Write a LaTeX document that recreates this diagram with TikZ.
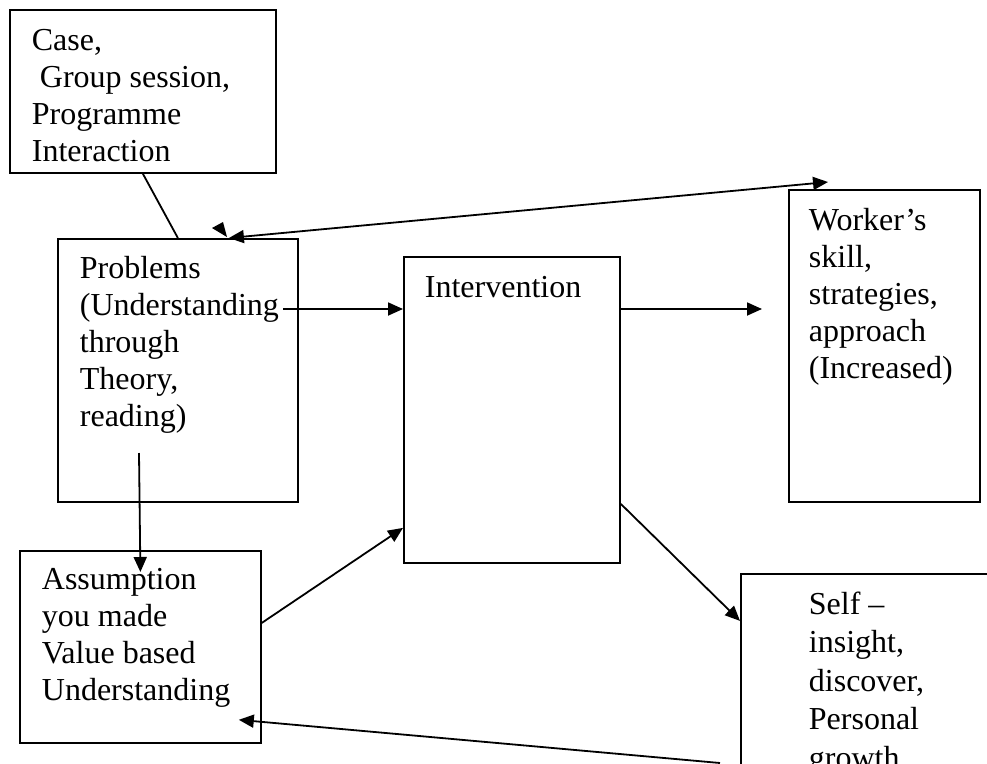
\documentclass[tikz,border=0pt]{standalone}
\usepackage{fontspec}
\setmainfont{Liberation Serif}
\usetikzlibrary{arrows.meta}
\begin{document}
\begin{tikzpicture}[x=1pt,y=-1pt,>={Triangle[length=15pt,width=13pt]},line width=1.8pt,line join=miter,
	box/.style={draw,rectangle,anchor=north west,inner sep=0pt},
	txt/.style={anchor=base west,inner sep=0pt,align=left,font=\fontsize{32}{37}\selectfont}]
	\useasboundingbox (0,0) rectangle (987,763);
	\clip (0,0) rectangle (987,763);
	\node[box,minimum width=266pt,minimum height=163pt] (case) at (9,9) {};
	\node[box,minimum width=240pt,minimum height=263pt] (prob) at (57,238) {};
	\node[box,minimum width=216pt,minimum height=306pt] (inter) at (403,256) {};
	\node[box,minimum width=191pt,minimum height=312pt] (worker) at (788,189) {};
	\node[box,minimum width=241pt,minimum height=192pt] (assum) at (19,550) {};
	\node[box,minimum width=260pt,minimum height=250pt] (self) at (740,573) {};
	% base = last line of each text
	\node[txt] (casetxt) at (31,161) {Case,\\\ Group session,\\Programme\\Interaction};
	\node[txt] (probtxt) at (79,426) {Problems\\(Understanding\\through\\Theory,\\reading)};
	\node[txt] (intertxt) at (424,297) {Intervention};
	\node[txt] (workertxt) at (808,378) {Worker’s\\skill,\\strategies,\\approach\\(Increased)};
	\node[txt] (assumtxt) at (41,700) {Assumption\\you made\\Value based\\Understanding};
	\node[txt,font=\fontsize{32}{38.5}\selectfont] (selftxt) at (808,768) {Self –\\insight,\\discover,\\Personal\\growth};
	\coordinate (p1) at (283,309);
	\coordinate (p2) at (762,309);
	\coordinate (p3) at (139,453);
	\coordinate (p4) at (720,763);
	\draw (case.south) -- (prob.north);
	\draw[<->] ([xshift=51pt]prob.north) -- ([xshift=40pt,yshift=7pt]worker.north west);
	\fill (212,228) -- (223,222) -- (227,237) -- cycle;
	\draw[->] (p1) -- (p1 -| inter.west);
	\draw[->] (p1 -| inter.east) -- (p2);
	\draw[->] (p3) -- ([yshift=-22pt]assum.north);
	\draw[->] ([yshift=24pt]assum.east) -- ([yshift=-118pt]inter.west);
	\draw[->] ([yshift=-94pt]inter.east) -- ([yshift=78pt]self.west);
	\draw[->] (p4) -- ([xshift=-23pt,yshift=24pt]assum.south east);
\end{tikzpicture}
\end{document}
